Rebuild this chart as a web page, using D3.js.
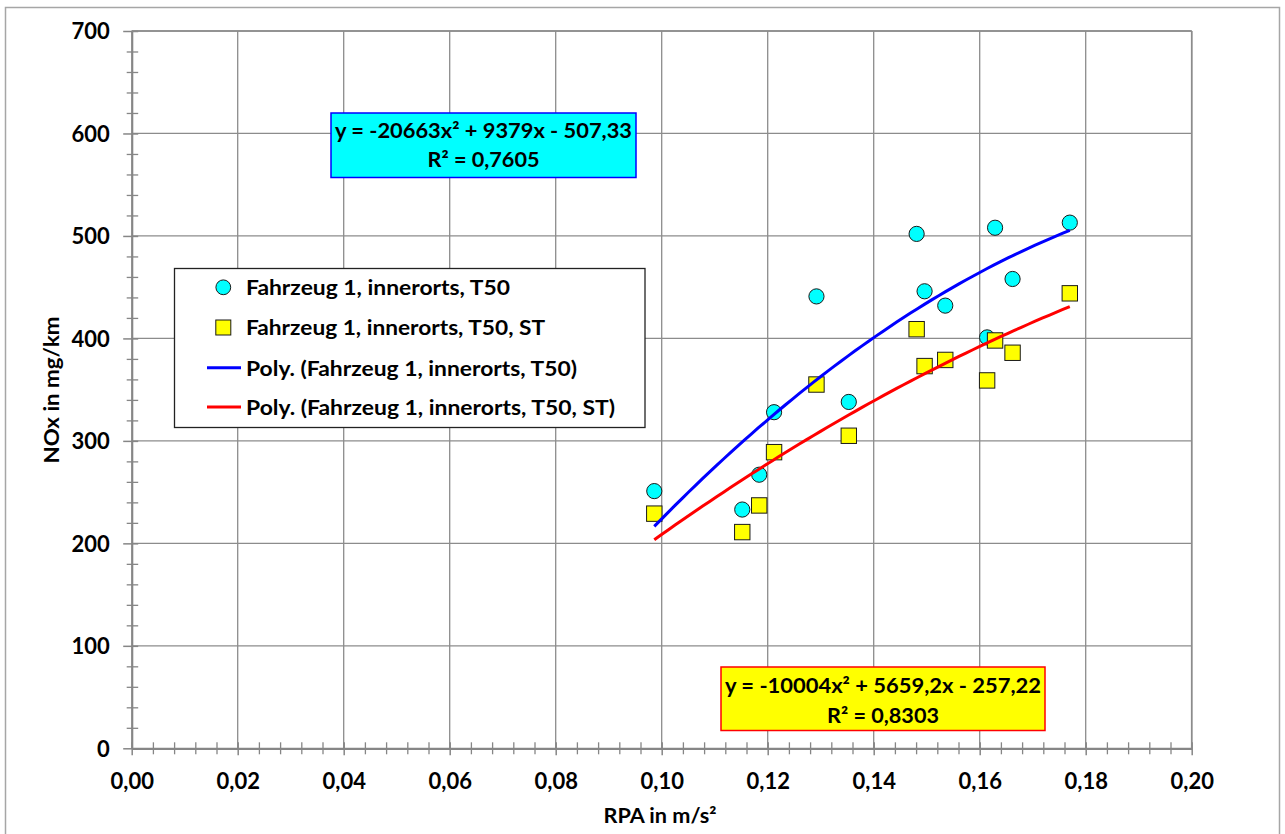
<!DOCTYPE html>
<html>
<head>
<meta charset="utf-8">
<script src="https://cdn.jsdelivr.net/npm/d3@7"></script>
<style>
  html, body { margin: 0; padding: 0; background: #ffffff; }
  svg text { font-family: Lato, "Open Sans", "DejaVu Sans", sans-serif; font-weight: 700; fill: #000; }
</style>
</head>
<body>
<svg id="chart" width="1285" height="834"></svg>
<script>
// ---- data ----
const rpa     = [0.0986, 0.1152, 0.1184, 0.1212, 0.1292, 0.1353, 0.1481, 0.1496, 0.1535, 0.1614, 0.1629, 0.1662, 0.1770];
const noxT50  = [251, 233, 267, 328, 441, 338, 502, 446, 432, 401, 508, 458, 513];
const noxST   = [229, 211, 237, 289, 355, 305, 409, 373, 379, 359, 398, 386, 444];
const seriesNames = ["Fahrzeug 1, innerorts, T50", "Fahrzeug 1, innerorts, T50, ST",
                     "Poly. (Fahrzeug 1, innerorts, T50)", "Poly. (Fahrzeug 1, innerorts, T50, ST)"];
const trendT50 = [-20663, 9379, -507.33];   // a, b, c  (y = a x² + b x + c)
const trendST  = [-10004, 5659.2, -257.22];
const eqT50 = ["y = -20663x² + 9379x - 507,33", "R² = 0,7605"];
const eqST  = ["y = -10004x² + 5659,2x - 257,22", "R² = 0,8303"];
const xTicks = [0, 0.02, 0.04, 0.06, 0.08, 0.10, 0.12, 0.14, 0.16, 0.18, 0.20];
const yTicks = [0, 100, 200, 300, 400, 500, 600, 700];
const xTitle = "RPA in m/s²";
const yTitle = "NOx in mg/km";

// ---- layout ----
const svg = d3.select("#chart");
const x = d3.scaleLinear().domain([0, 0.2]).range([131.7, 1191.7]);
const y = d3.scaleLinear().domain([0, 700]).range([748.3, 31]);
const gridColor = "#8c8c8c";
const axisColor = "#868686";

// outer frame
svg.append("rect").attr("x", 5.5).attr("y", 7.5).attr("width", 1274).attr("height", 840)
  .attr("fill", "#fff").attr("stroke", "#a6a6a6").attr("stroke-width", 1.5);

// gridlines
const grid = svg.append("g");
grid.selectAll("line.v").data(xTicks.slice(1)).join("line")
  .attr("x1", d => x(d)).attr("x2", d => x(d)).attr("y1", y(700)).attr("y2", y(0))
  .attr("stroke", gridColor).attr("stroke-width", 1.3);
grid.selectAll("line.h").data(yTicks.slice(1)).join("line")
  .attr("x1", x(0)).attr("x2", x(0.2)).attr("y1", d => y(d)).attr("y2", d => y(d))
  .attr("stroke", gridColor).attr("stroke-width", 1.3);

// minor ticks
const xMinor = d3.range(0, 51).map(i => i * 0.004).filter((d, i) => i % 5 !== 0);
const yMinor = d3.range(0, 36).map(i => i * 20).filter((d, i) => i % 5 !== 0);
const xAxisG = svg.append("g").attr("transform", `translate(0,${y(0)})`);
xAxisG.call(d3.axisBottom(x).tickValues(xMinor).tickSize(6).tickFormat(""));
xAxisG.selectAll(".tick line").attr("y1", -6).attr("y2", 6).attr("stroke", axisColor).attr("stroke-width", 1.3);
xAxisG.select(".domain").remove();
const yAxisG = svg.append("g").attr("transform", `translate(${x(0)},0)`);
yAxisG.call(d3.axisLeft(y).tickValues(yMinor).tickSize(5).tickFormat(""));
yAxisG.selectAll(".tick line").attr("x1", -5).attr("x2", 6.5).attr("stroke", axisColor).attr("stroke-width", 1.3);
yAxisG.select(".domain").remove();

// major ticks + labels
const xMajorG = svg.append("g").attr("transform", `translate(0,${y(0)})`);
xMajorG.call(d3.axisBottom(x).tickValues(xTicks).tickSizeOuter(0)
  .tickFormat(d => d3.format(".2f")(d).replace(".", ",")));
xMajorG.select(".domain").attr("stroke", axisColor).attr("stroke-width", 2.2);
xMajorG.selectAll(".tick line").attr("y1", -6).attr("y2", 7).attr("stroke", axisColor).attr("stroke-width", 1.5);
xMajorG.selectAll(".tick text").attr("y", 40.7).attr("dy", 0).attr("font-size", 22)
  .style("font-family", "Lato, sans-serif").style("font-weight", 700).attr("fill", "#000");

const yMajorG = svg.append("g").attr("transform", `translate(${x(0)},0)`);
yMajorG.call(d3.axisLeft(y).tickValues(yTicks).tickSizeOuter(0).tickFormat(d3.format("d")));
yMajorG.select(".domain").attr("stroke", axisColor).attr("stroke-width", 2.2);
yMajorG.selectAll(".tick line").attr("x1", -8.5).attr("x2", 6.5).attr("stroke", axisColor).attr("stroke-width", 1.5);
yMajorG.selectAll(".tick text").attr("x", -22).attr("dy", "0.36em").attr("font-size", 22)
  .style("font-family", "Lato, sans-serif").style("font-weight", 700).attr("fill", "#000");

// plot-area top/right edges
svg.append("line").attr("x1", x(0)).attr("x2", x(0.2)).attr("y1", y(700)).attr("y2", y(700))
  .attr("stroke", "#8c8c8c").attr("stroke-width", 1.6);
svg.append("line").attr("x1", x(0.2)).attr("x2", x(0.2)).attr("y1", y(700)).attr("y2", y(0))
  .attr("stroke", "#8c8c8c").attr("stroke-width", 1.6);

// axis titles
svg.append("text").attr("x", 660).attr("y", 823).attr("text-anchor", "middle")
  .attr("font-size", 21).attr("textLength", 113).attr("lengthAdjust", "spacingAndGlyphs").text(xTitle);
svg.append("text").attr("transform", "translate(59,390) rotate(-90)").attr("text-anchor", "middle")
  .attr("font-size", 21).attr("textLength", 147).attr("lengthAdjust", "spacingAndGlyphs").text(yTitle);

// data
const pts = rpa.map((r, i) => ({ r, a: noxT50[i], b: noxST[i] }));
svg.append("g").selectAll("circle").data(pts).join("circle")
  .attr("cx", d => x(d.r)).attr("cy", d => y(d.a)).attr("r", 7.6)
  .attr("fill", "#00ffff").attr("stroke", "#1a1a1a").attr("stroke-width", 1);
const sq = 15.4;
svg.append("g").selectAll("rect").data(pts).join("rect")
  .attr("x", d => x(d.r) - sq / 2).attr("y", d => y(d.b) - sq / 2).attr("width", sq).attr("height", sq)
  .attr("fill", "#ffff00").attr("stroke", "#1a1a1a").attr("stroke-width", 1);

// polynomial trendlines (from the coefficients printed on the chart)
function trend(coef) {
  const [lo, hi] = d3.extent(rpa);
  const xs = d3.range(0, 61).map(i => lo + (hi - lo) * i / 60);
  return xs.map(v => [v, coef[0] * v * v + coef[1] * v + coef[2]]);
}
const line = d3.line().x(d => x(d[0])).y(d => y(d[1]));
svg.append("path").attr("d", line(trend(trendT50))).attr("fill", "none").attr("stroke", "#0000ff").attr("stroke-width", 3);
svg.append("path").attr("d", line(trend(trendST))).attr("fill", "none").attr("stroke", "#ff0000").attr("stroke-width", 3);

// legend
const lg = svg.append("g");
lg.append("rect").attr("x", 174.5).attr("y", 268.5).attr("width", 470.5).attr("height", 159)
  .attr("fill", "#fff").attr("stroke", "#222").attr("stroke-width", 1.3);
const rowsY = [287.3, 327.5, 367.8, 407];
const legendW = [264, 299, 331, 369];
lg.append("circle").attr("cx", 223.3).attr("cy", rowsY[0]).attr("r", 7.4)
  .attr("fill", "#00ffff").attr("stroke", "#1a1a1a").attr("stroke-width", 1);
lg.append("rect").attr("x", 223.3 - 7.5).attr("y", rowsY[1] - 7.5).attr("width", 15).attr("height", 15)
  .attr("fill", "#ffff00").attr("stroke", "#1a1a1a").attr("stroke-width", 1);
lg.append("line").attr("x1", 207).attr("x2", 241).attr("y1", rowsY[2]).attr("y2", rowsY[2])
  .attr("stroke", "#0000ff").attr("stroke-width", 3);
lg.append("line").attr("x1", 207).attr("x2", 241).attr("y1", rowsY[3]).attr("y2", rowsY[3])
  .attr("stroke", "#ff0000").attr("stroke-width", 3);
lg.selectAll("text").data(seriesNames).join("text")
  .attr("x", 246).attr("y", (d, i) => rowsY[i] + 7.7).attr("font-size", 21)
  .attr("textLength", (d, i) => legendW[i]).attr("lengthAdjust", "spacingAndGlyphs")
  .text(d => d);

// equation boxes
function eqBox(x0, y0, w, h, fill, stroke, lines, baselines, widths) {
  const g = svg.append("g");
  g.append("rect").attr("x", x0).attr("y", y0).attr("width", w).attr("height", h)
    .attr("fill", fill).attr("stroke", stroke).attr("stroke-width", 1.5);
  g.selectAll("text").data(lines).join("text")
    .attr("x", x0 + w / 2).attr("y", (d, i) => baselines[i]).attr("text-anchor", "middle")
    .attr("font-size", 21).attr("textLength", (d, i) => widths[i]).attr("lengthAdjust", "spacingAndGlyphs")
    .text(d => d);
}
eqBox(331, 113, 305, 64.5, "#00ffff", "#0000ff", eqT50, [138.3, 166.7], [297, 112]);
eqBox(721, 667, 324, 63.5, "#ffff00", "#ff0000", eqST, [693.3, 723.3], [316, 112]);
</script>
</body>
</html>
